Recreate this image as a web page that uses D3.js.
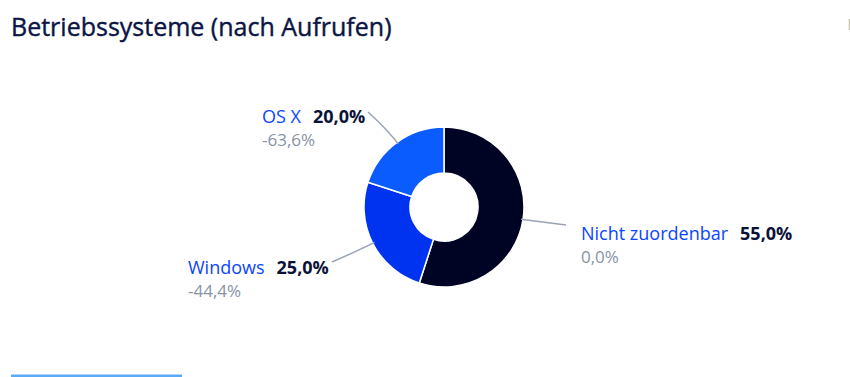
<!DOCTYPE html>
<html>
<head>
<meta charset="utf-8">
<script src="https://cdn.jsdelivr.net/npm/d3@7"></script>
<style>
  body { margin: 0; background: #fff; font-family: "Open Sans", "Noto Sans", sans-serif; }
</style>
</head>
<body>
<script>
// chart data
var categories = ["Nicht zuordenbar", "Windows", "OS X"];
var shares = [55.0, 25.0, 20.0];
var changes = [0.0, -44.4, -63.6];
var colors = ["#000424", "#0033f0", "#0a5cff"];

var width = 850, height = 377;
var cx = 444, cy = 207, outerR = 80, innerR = 34;

var fmt = function(v) { return v.toFixed(1).replace(".", ",") + "%"; };

var svg = d3.select("body").append("svg")
    .attr("width", width)
    .attr("height", height);

// title (thin stroke gives it a medium weight)
svg.append("text")
    .attr("x", 11)
    .attr("y", 36)
    .attr("fill", "#0b1544")
    .attr("stroke", "#0b1544")
    .attr("stroke-width", 0.4)
    .attr("font-size", "25px")
    .text("Betriebssysteme (nach Aufrufen)");

// faint mark at the right edge
svg.append("line")
    .attr("x1", 849.5).attr("x2", 849.5)
    .attr("y1", 19).attr("y2", 30)
    .attr("stroke", "#c9c4b0")
    .attr("stroke-width", 1.5);

// little bar at bottom
svg.append("line")
    .attr("x1", 11).attr("x2", 182)
    .attr("y1", 376).attr("y2", 376)
    .attr("stroke", "#5aaaf5")
    .attr("stroke-width", 3);

var pie = d3.pie().sort(null).value(function(d) { return d; });
var arcs = pie(shares);

var arc = d3.arc().innerRadius(innerR).outerRadius(outerR);

var g = svg.append("g").attr("transform", "translate(" + cx + "," + cy + ")");

g.selectAll("path.slice")
    .data(arcs)
    .enter()
    .append("path")
    .attr("class", "slice")
    .attr("d", arc)
    .attr("fill", function(d, i) { return colors[i]; })
    .attr("stroke", "#fff")
    .attr("stroke-width", 1.5);

// label anchors (where the text block sits, relative to the center)
var labelPos = [
    { x: 137, y: 33, lineEnd: [122, 18] },
    { x: -256, y: 67, lineEnd: [-112, 55] },
    { x: -182, y: -84, lineEnd: [-76, -95] }
];

arcs.forEach(function(d, i) {
    var mid = (d.startAngle + d.endAngle) / 2;
    var sx = Math.sin(mid) * (outerR - 2), sy = -Math.cos(mid) * (outerR - 2);
    var ex = labelPos[i].lineEnd[0], ey = labelPos[i].lineEnd[1];
    var p = d3.path();
    p.moveTo(sx, sy);
    if (i === 0) {
        p.lineTo(ex, ey);
    } else {
        var ox = Math.sin(mid) * (outerR + 14), oy = -Math.cos(mid) * (outerR + 14);
        p.quadraticCurveTo(ox, oy, ex, ey);
    }
    g.append("path")
        .attr("d", p.toString())
        .attr("fill", "none")
        .attr("stroke", "#9aa3b2")
        .attr("stroke-width", 1.5);
});

var labels = g.selectAll("g.lbl")
    .data(arcs)
    .enter()
    .append("g")
    .attr("class", "lbl")
    .attr("transform", function(d, i) {
        return "translate(" + labelPos[i].x + "," + labelPos[i].y + ")";
    });

var line1 = labels.append("text")
    .attr("font-size", "18px");
line1.append("tspan")
    .attr("fill", "#0a45ff")
    .text(function(d, i) { return categories[i]; });
line1.append("tspan")
    .attr("fill", "#0b1238")
    .attr("font-weight", "bold")
    .attr("dx", 12)
    .text(function(d) { return fmt(d.value); });

labels.append("text")
    .attr("y", 23)
    .attr("font-size", "17px")
    .attr("fill", "#8893a6")
    .text(function(d, i) { return fmt(changes[i]); });
</script>
</body>
</html>
